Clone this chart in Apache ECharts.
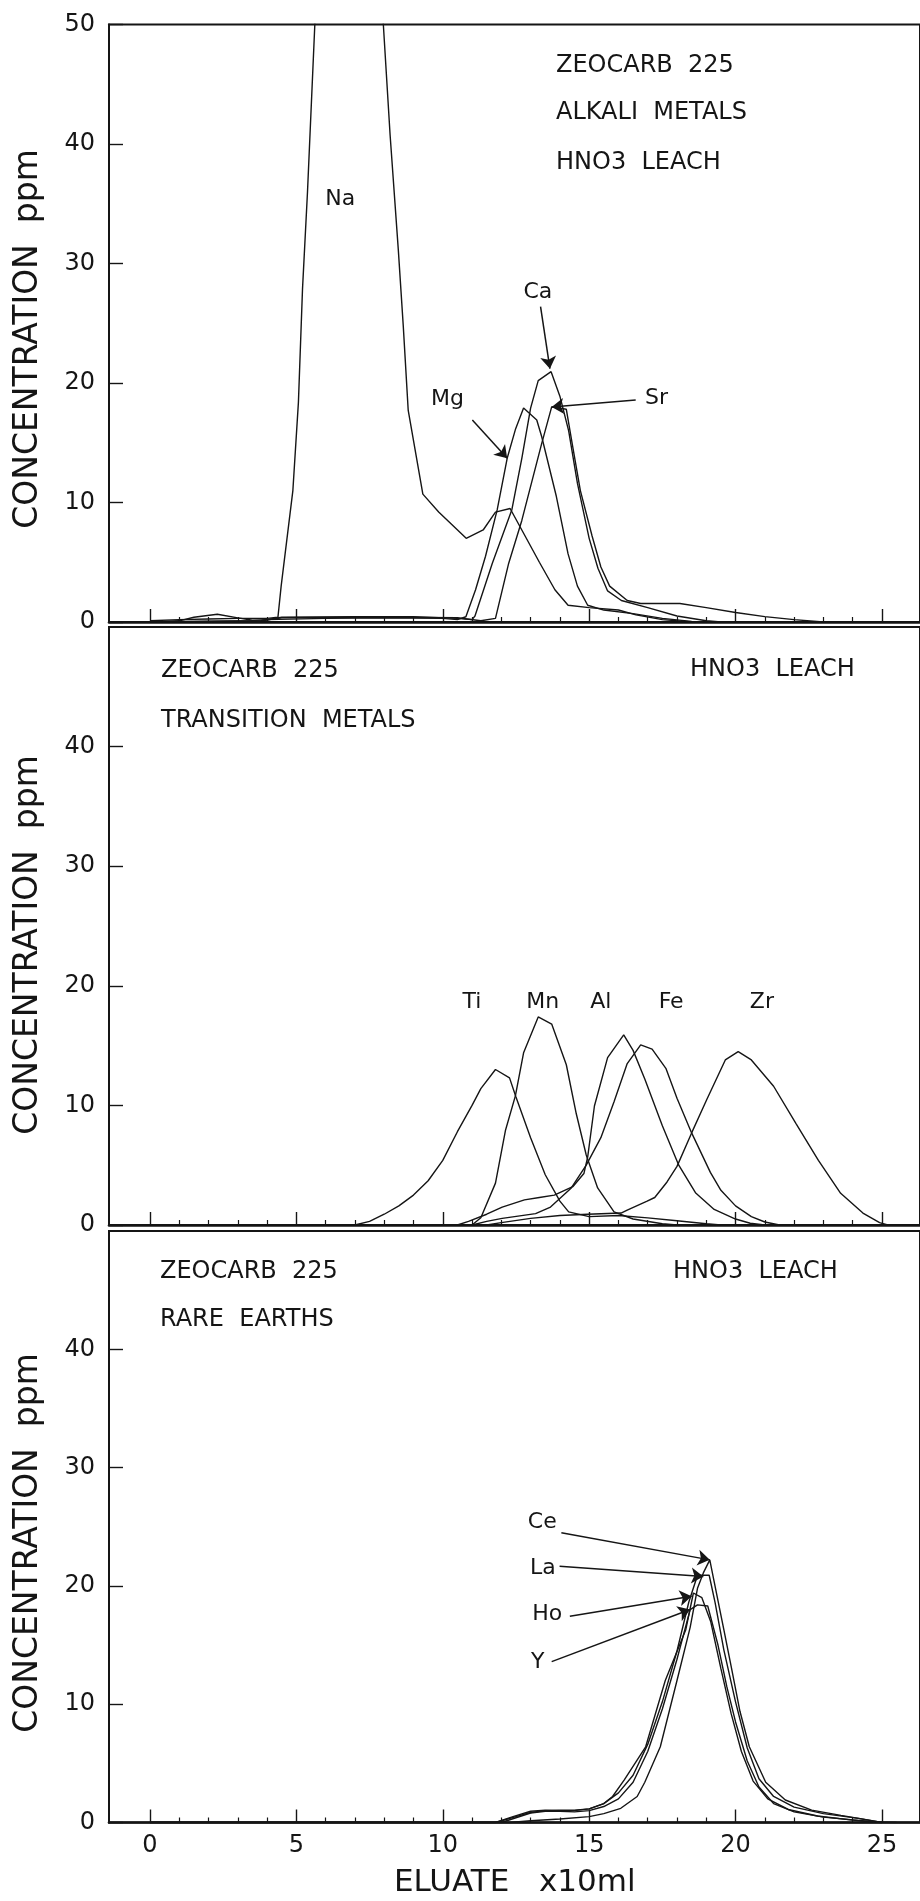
<!DOCTYPE html>
<html>
<head>
<meta charset="utf-8">
<title>Zeocarb 225 elution curves</title>
<script src="https://cdn.jsdelivr.net/npm/echarts@6/dist/echarts.min.js"></script>
<style>
  html, body { margin: 0; padding: 0; background: #ffffff; }
  #chart { width: 920px; height: 1901px; }
</style>
</head>
<body>
<div id="chart"></div>
<script>
// Elution curves on Zeocarb 225, HNO3 leach.
// x: eluate volume (x10 ml), y: concentration (ppm). Points are [x, y].

const xTickLabels = [0, 5, 10, 15, 20, 25];

// --- Alkali / alkaline-earth metals ---
const sodium = [[0,0.1],[1,0.2],[2,0.25],[3,0.3],[4,0.3],[4.37,0.4],[4.48,3.0],[4.88,11.0],[5.07,18.4],[5.21,27.9],[5.38,36.0],[5.63,50.0],[5.9,64],[6.8,78],[7.7,61],[7.97,50.0],[8.2,40.8],[8.48,31.2],[8.65,24.8],[8.82,17.7],[9.32,10.7],[9.86,9.2],[10.8,7.0],[11.38,7.7],[11.8,9.2],[12.3,9.5],[12.7,7.7],[13.3,5.0],[13.83,2.7],[14.28,1.4],[15.0,1.2],[16.0,1.0],[16.6,0.6],[17.5,0.2],[18.5,0]];
const magnesium = [[0,0],[1,0.1],[1.5,0.4],[2.3,0.65],[3,0.35],[3.5,0.15],[4,0.2],[6,0.3],[8,0.35],[10,0.3],[10.5,0.2],[10.79,0.44],[11.12,2.7],[11.46,5.5],[11.86,9.4],[12.2,13.7],[12.48,16.1],[12.76,17.9],[13.21,16.9],[13.38,15.5],[13.88,10.5],[14.28,5.7],[14.6,3.0],[14.95,1.4],[15.5,1.0],[16.5,0.7],[17.5,0.3],[18.5,0.05]];
const calcium = [[0,0],[3.8,0.1],[4.5,0.4],[7,0.45],[9,0.45],[10.5,0.3],[11.0,0.2],[11.1,0.5],[11.69,4.9],[12.36,9.4],[12.7,13.7],[13.0,17.9],[13.26,20.2],[13.7,20.95],[14.0,18.9],[14.3,16.0],[14.6,11.6],[15.0,7.0],[15.3,4.5],[15.63,2.6],[16.1,1.8],[17.0,1.2],[18.0,0.5],[19.0,0.1],[19.5,0]];
const strontium = [[0,0],[3.8,0.1],[4.5,0.35],[8,0.4],[10.5,0.35],[11.3,0.1],[11.8,0.3],[12.25,4.9],[12.7,8.5],[13.38,14.95],[13.72,18.0],[14.22,17.8],[14.45,14.5],[14.7,11.0],[15.1,7.2],[15.4,4.6],[15.7,3.0],[16.3,1.8],[16.76,1.55],[18.1,1.55],[19.0,1.2],[20.0,0.8],[21.0,0.45],[22.0,0.2],[23.0,0]];

// --- Transition metals ---
const titanium = [[0,0],[7.0,0],[7.5,0.3],[8.0,0.9],[8.5,1.6],[9.0,2.5],[9.5,3.7],[10.0,5.4],[10.5,7.8],[11.0,10.0],[11.3,11.4],[11.8,13.0],[12.28,12.3],[12.5,10.7],[13.0,7.3],[13.5,4.2],[14.0,2.0],[14.3,1.1],[15.0,0.7],[16.0,0.8],[17.0,0.6],[18.0,0.35],[19.0,0.1],[19.5,0]];
const manganese = [[0,0],[11.0,0],[11.3,0.6],[11.8,3.5],[12.14,7.9],[12.48,10.8],[12.76,14.4],[13.26,17.4],[13.72,16.8],[14.22,13.4],[14.56,9.3],[14.9,5.85],[15.29,3.1],[15.85,1.1],[16.5,0.5],[17.5,0.1],[18.0,0]];
const aluminium = [[0,0],[10.5,0],[10.88,0.3],[11.5,0.9],[12.03,1.5],[12.79,2.1],[13.3,2.3],[13.81,2.5],[14.44,3.2],[14.82,4.3],[14.95,5.7],[15.18,9.95],[15.63,14.0],[16.18,15.9],[16.5,14.6],[16.9,12.2],[17.5,8.3],[18.06,5.0],[18.63,2.7],[19.27,1.3],[20.0,0.5],[20.5,0.15],[21.0,0]];
const iron = [[0,0],[11.0,0],[11.5,0.3],[12.03,0.55],[13.17,0.95],[13.68,1.5],[14.39,3.1],[14.9,5.0],[15.4,7.3],[15.85,10.3],[16.3,13.5],[16.76,15.06],[17.15,14.7],[17.62,13.1],[18.0,10.6],[18.5,7.7],[19.14,4.4],[19.5,2.9],[20.0,1.6],[20.54,0.7],[21.0,0.25],[21.5,0]];
const zirconium = [[0,0],[11.5,0],[12.0,0.2],[13.0,0.55],[14.0,0.8],[14.95,0.9],[16.09,1.0],[16.3,1.25],[16.98,2.0],[17.24,2.3],[17.66,3.6],[18.0,4.9],[18.5,7.7],[19.01,10.45],[19.65,13.8],[20.09,14.5],[20.54,13.8],[21.3,11.6],[22.06,8.5],[22.83,5.4],[23.59,2.65],[24.35,1.0],[24.92,0.2],[25.2,0]];

// --- Rare earths ---
const cerium = [[0,0],[12.3,0],[13,0.15],[14,0.3],[15,0.5],[15.5,0.75],[16.08,1.2],[16.64,2.2],[16.9,3.4],[17.43,6.4],[18.0,12.0],[18.45,16.5],[18.7,19.8],[18.9,21.1],[19.12,22.2],[19.25,20.6],[19.6,16.3],[19.85,13.2],[20.15,9.4],[20.47,6.4],[21.03,3.4],[21.7,1.9],[22.6,1.05],[23.6,0.6],[24.9,0.05],[25.5,0]];
const lanthanum = [[0,0],[11.8,0],[12.5,0.5],[13.0,0.85],[13.5,1.0],[14.0,1.05],[14.5,1.05],[15.0,1.15],[15.5,1.6],[16.0,2.5],[16.5,4.0],[17.0,6.6],[17.5,10.2],[18.0,14.5],[18.4,18.6],[18.7,20.9],[19.1,20.9],[19.3,18.6],[19.6,14.6],[20.0,10.2],[20.4,6.3],[20.8,3.7],[21.3,2.2],[22.0,1.3],[23.0,0.75],[24.2,0.35],[25.0,0]];
const holmium = [[0,0],[11.8,0],[12.4,0.5],[13.0,0.95],[13.5,1.05],[14.0,1.0],[14.5,1.0],[15.0,1.15],[15.5,1.6],[15.8,2.2],[16.2,3.6],[16.93,6.4],[17.6,12.0],[18.3,16.3],[18.56,19.4],[18.85,19.0],[19.15,17.0],[19.5,13.0],[19.85,9.2],[20.2,6.0],[20.6,3.5],[21.1,2.0],[21.8,1.1],[22.8,0.55],[24.0,0.2],[25.0,0]];
const yttrium = [[0,0],[12.0,0],[12.5,0.4],[13.0,0.8],[13.5,0.95],[14.0,0.95],[14.5,0.9],[15.0,1.0],[15.5,1.35],[16.0,2.0],[16.5,3.4],[17.0,6.0],[17.5,9.6],[18.0,13.8],[18.45,18.0],[18.7,18.4],[19.05,18.3],[19.4,15.0],[19.7,11.5],[20.0,8.5],[20.4,5.2],[20.8,3.0],[21.3,1.6],[22.0,0.9],[23.0,0.45],[24.5,0.1],[25.0,0]];

// ---------------------------------------------------------------
const INK = '#151515';
const FONT = 'DejaVu Sans';
const X_MIN = -1.4, X_MAX = 26.3;
const minorTicks = [];
for (let v = 1; v <= 24; v++) if (v % 5 !== 0) minorTicks.push(v);

const grids = [
  { left: 109, right: -9, top: 24.5, height: 597.5 },
  { left: 109, right: -9, top: 627, height: 598 },
  { left: 109, right: -9, top: 1231, height: 591.5 }
].map(g => Object.assign(g, { show: true, borderColor: INK, borderWidth: 2, backgroundColor: 'transparent' }));

function majorAxis(g, showLabels) {
  return {
    type: 'value', gridIndex: g, min: X_MIN, max: X_MAX, position: 'bottom',
    axisLine: { show: true, onZero: false, lineStyle: { color: INK, width: 2.6 } },
    axisTick: { show: true, inside: true, length: 13, customValues: xTickLabels, lineStyle: { color: INK, width: 1.4 } },
    axisLabel: { show: showLabels, customValues: xTickLabels, margin: 11, fontSize: 24, color: INK, fontFamily: FONT },
    splitLine: { show: false }
  };
}
function minorAxis(g) {
  return {
    type: 'value', gridIndex: g, min: X_MIN, max: X_MAX, position: 'bottom',
    axisLine: { show: false, onZero: false },
    axisTick: { show: true, inside: true, length: 5, customValues: minorTicks, lineStyle: { color: INK, width: 1.2 } },
    axisLabel: { show: false }, splitLine: { show: false }
  };
}
function yAxisFor(g, showTop) {
  return {
    type: 'value', gridIndex: g, min: 0, max: 50, interval: 10, position: 'left',
    axisLine: { show: true, onZero: false, lineStyle: { color: INK, width: 2 } },
    axisTick: { show: true, inside: true, length: 14, lineStyle: { color: INK, width: 1.4 } },
    axisLabel: { fontSize: 24, color: INK, margin: 14, fontFamily: FONT, showMaxLabel: showTop },
    splitLine: { show: false }
  };
}

function curve(name, data, g, extra) {
  return Object.assign({
    type: 'line', name: name, data: data,
    xAxisIndex: g * 2, yAxisIndex: g,
    symbol: 'none', clip: true, silent: true, z: 3,
    lineStyle: { color: INK, width: 1.4 }
  }, extra || {});
}

function arrows(pairs) {
  return {
    silent: true, symbol: ['none', 'arrow'], symbolSize: 12,
    label: { show: false },
    lineStyle: { color: INK, width: 1.5, type: 'solid' },
    itemStyle: { color: INK },
    data: pairs.map(p => [{ coord: p[0] }, { coord: p[1] }])
  };
}
function tags(list, size) {
  return {
    silent: true, symbol: 'rect', symbolSize: 1,
    itemStyle: { color: 'rgba(0,0,0,0)' },
    label: { show: true, position: 'inside', formatter: '{b}', fontSize: size, color: INK, fontFamily: FONT },
    data: list.map(t => ({ name: t[0], coord: t[1] }))
  };
}

const series = [
  curve('Na', sodium, 0, {
    markPoint: tags([['Na', [6.5, 35.4]], ['Mg', [10.16, 18.6]], ['Ca', [13.25, 27.6]], ['Sr', [17.3, 18.7]]], 22),
    markLine: arrows([
      [[11.01, 16.9], [12.2, 13.7]],
      [[13.34, 26.4], [13.66, 21.2]],
      [[16.59, 18.58], [13.72, 18.0]]
    ])
  }),
  curve('Mg', magnesium, 0),
  curve('Ca', calcium, 0),
  curve('Sr', strontium, 0),

  curve('Ti', titanium, 1, {
    markPoint: tags([['Ti', [11.0, 18.6]], ['Mn', [13.41, 18.6]], ['Al', [15.4, 18.6]], ['Fe', [17.8, 18.6]], ['Zr', [20.9, 18.6]]], 22)
  }),
  curve('Mn', manganese, 1),
  curve('Al', aluminium, 1),
  curve('Fe', iron, 1),
  curve('Zr', zirconium, 1),

  curve('Ce', cerium, 2, {
    markPoint: tags([['Ce', [13.4, 25.4]], ['La', [13.42, 21.5]], ['Ho', [13.57, 17.6]], ['Y', [13.24, 13.55]]], 22),
    markLine: arrows([
      [[14.05, 24.5], [19.12, 22.2]],
      [[13.99, 21.67], [18.9, 20.8]],
      [[14.34, 17.43], [18.5, 19.13]],
      [[13.72, 13.6], [18.45, 18.0]]
    ])
  }),
  curve('La', lanthanum, 2),
  curve('Ho', holmium, 2),
  curve('Y', yttrium, 2)
];

// Free-standing captions
const panelNotes = [
  ['ZEOCARB  225', 556, 66], ['ALKALI  METALS', 556, 113], ['HNO3  LEACH', 556, 163],
  ['ZEOCARB  225', 161, 671], ['TRANSITION  METALS', 161, 721], ['HNO3  LEACH', 690, 670],
  ['ZEOCARB  225', 160, 1272], ['RARE  EARTHS', 160, 1320], ['HNO3  LEACH', 673, 1272]
];
const graphics = panelNotes.map(n => ({
  type: 'text', x: n[1], y: n[2], silent: true,
  style: { text: n[0], fill: INK, font: '24px "' + FONT + '"', align: 'left', verticalAlign: 'middle', textAlign: 'left', textVerticalAlign: 'middle' }
}));
[339, 945, 1543].forEach(cy => graphics.push({
  type: 'text', x: 28.5, y: cy, rotation: Math.PI / 2, silent: true,
  style: { text: 'CONCENTRATION  ppm', fill: INK, font: '33px "' + FONT + '"', align: 'center', verticalAlign: 'middle', textAlign: 'center', textVerticalAlign: 'middle' }
}));
graphics.push({
  type: 'text', x: 394, y: 1883, silent: true,
  style: { text: 'ELUATE   x10ml', fill: INK, font: '31px "' + FONT + '"', align: 'left', verticalAlign: 'middle', textAlign: 'left', textVerticalAlign: 'middle' }
});

const chart = echarts.init(document.getElementById('chart'), null, { renderer: 'canvas' });
chart.setOption({
  backgroundColor: '#ffffff',
  animation: false,
  textStyle: { fontFamily: FONT },
  grid: grids,
  xAxis: [majorAxis(0, false), minorAxis(0), majorAxis(1, false), minorAxis(1), majorAxis(2, true), minorAxis(2)],
  yAxis: [yAxisFor(0, true), yAxisFor(1, false), yAxisFor(2, false)],
  series: series,
  graphic: graphics
});
</script>
</body>
</html>
